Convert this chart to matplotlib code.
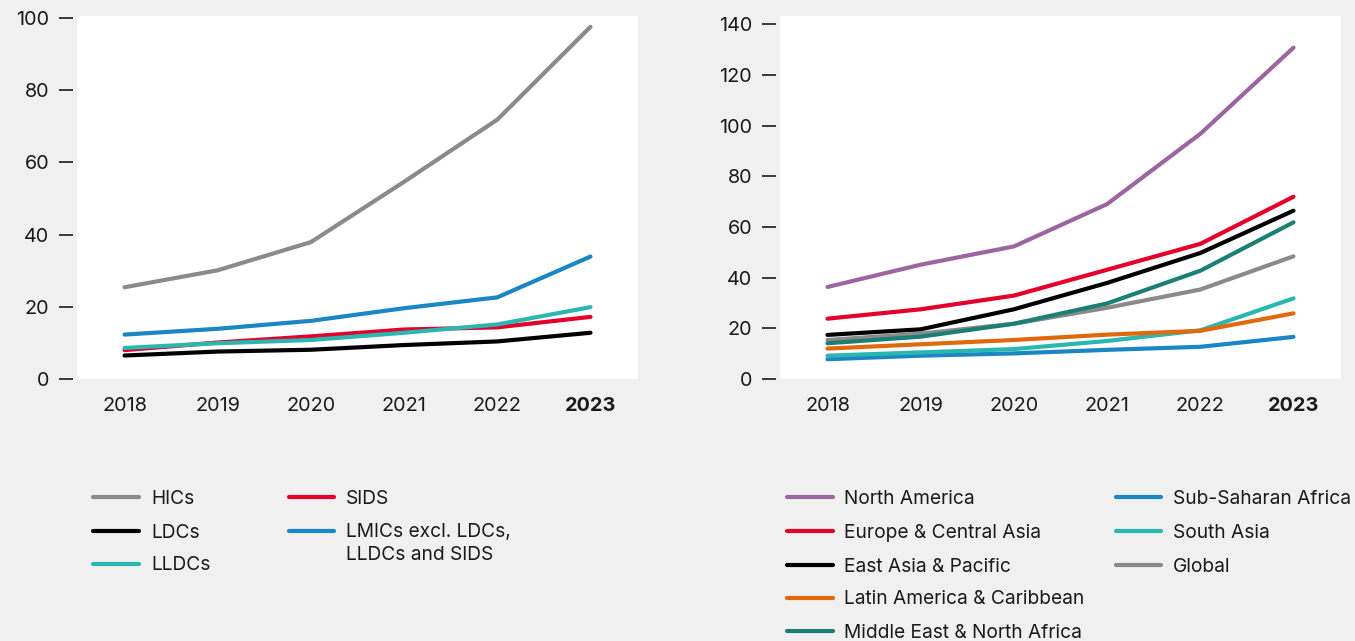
import matplotlib
matplotlib.use("Agg")
import matplotlib.pyplot as plt
from matplotlib.lines import Line2D

plt.rcParams['font.family'] = ['Inter', 'DejaVu Sans']

years = [2018, 2019, 2020, 2021, 2022, 2023]
year_labels = ['2018', '2019', '2020', '2021', '2022', '2023']

# Left panel: country groups
hics = [25.4, 30.1, 37.9, 54.6, 71.8, 97.5]
ldcs = [6.5, 7.6, 8.1, 9.4, 10.4, 12.8]
lldcs = [8.6, 9.9, 10.8, 12.8, 15.1, 19.9]
sids = [8.0, 10.1, 11.8, 13.7, 14.3, 17.2]
lmics = [12.3, 13.9, 16.1, 19.6, 22.6, 33.9]

# Right panel: regions
north_america = [36.3, 45.1, 52.3, 69.0, 96.7, 130.7]
europe_central_asia = [23.8, 27.5, 32.9, 43.1, 53.3, 71.9]
east_asia_pacific = [17.4, 19.6, 27.5, 37.9, 49.7, 66.4]
latin_america = [12.0, 13.7, 15.4, 17.5, 19.0, 25.9]
middle_east = [14.1, 16.7, 21.8, 29.8, 42.7, 61.8]
sub_saharan = [7.8, 9.2, 10.1, 11.5, 12.7, 16.6]
south_asia = [9.2, 10.5, 11.8, 15.0, 19.2, 31.8]
global_ = [15.4, 17.9, 21.8, 28.1, 35.3, 48.4]

GREY = '#8a8a8a'
BLACK = '#000000'
TEAL = '#2bb7b1'
RED = '#e4002b'
BLUE = '#1a86c2'
PURPLE = '#9b66a0'
ORANGE = '#e0680d'
DTEAL = '#1b7f76'
TXT = '#1a1a1a'
BG = '#f0f0f0'

W, H = 1355, 641
fig = plt.figure(figsize=(W / 100, H / 100), dpi=100, facecolor=BG)


def px_axes(x0, x1, ytop, ybot):
    return fig.add_axes([x0 / W, 1 - ybot / H, (x1 - x0) / W, (ybot - ytop) / H])


def style(ax, ymax, yticks):
    ax.set_facecolor('white')
    for s in ax.spines.values():
        s.set_visible(False)
    ax.spines['left'].set_position(('outward', 3))
    ax.set_xlim(2017.49, 2023.51)
    ax.set_ylim(0, ymax)
    ax.set_yticks(yticks)
    ax.set_xticks(years)
    ax.set_xticklabels(year_labels)
    ax.get_xticklabels()[-1].set_fontweight('bold')
    ax.tick_params(axis='x', length=0, pad=13, labelsize=14.3, labelcolor=TXT)
    ax.tick_params(axis='y', length=10, width=1.2, color=TXT, pad=7,
                   labelsize=14.3, labelcolor=TXT)


lw = 3.0

# Left chart
axL = px_axes(77, 638, 16, 379)
left_series = [
    ('HICs', hics, GREY),
    ('LDCs', ldcs, BLACK),
    ('SIDS', sids, RED),
    ('LLDCs', lldcs, TEAL),
    ('LMICs', lmics, BLUE),
]
for name, vals, c in left_series:
    axL.plot(years, vals, color=c, lw=lw, solid_capstyle='round', solid_joinstyle='round')
style(axL, 100.5, [0, 20, 40, 60, 80, 100])

# Right chart
axR = px_axes(780, 1341, 16, 379)
right_series = [
    ('Sub-Saharan Africa', sub_saharan, BLUE),
    ('South Asia', south_asia, TEAL),
    ('Global', global_, GREY),
    ('Latin America & Caribbean', latin_america, ORANGE),
    ('Middle East & North Africa', middle_east, DTEAL),
    ('East Asia & Pacific', east_asia_pacific, BLACK),
    ('Europe & Central Asia', europe_central_asia, RED),
    ('North America', north_america, PURPLE),
]
for name, vals, c in right_series:
    axR.plot(years, vals, color=c, lw=lw, solid_capstyle='round', solid_joinstyle='round')
style(axR, 143.2, [0, 20, 40, 60, 80, 100, 120, 140])


# Legends (manual, in pixel coordinates)
def legend_entry(x_line0, x_line1, x_text, y, label, color):
    fig.add_artist(Line2D([x_line0 / W, x_line1 / W], [1 - y / H, 1 - y / H],
                          transform=fig.transFigure, color=color, lw=lw,
                          solid_capstyle='round'))
    for i, line in enumerate(label.split('\n')):
        fig.text(x_text / W, 1 - (y + 6.5 + 22 * i) / H, line, fontsize=13.8,
                 color=TXT, va='baseline', ha='left')


rows = [497, 531, 564]
legend_entry(93, 139, 151, rows[0], 'HICs', GREY)
legend_entry(93, 139, 151, rows[1], 'LDCs', BLACK)
legend_entry(93, 139, 151, rows[2], 'LLDCs', TEAL)
legend_entry(289, 334, 346, rows[0], 'SIDS', RED)
legend_entry(289, 334, 346, rows[1], 'LMICs excl. LDCs,\nLLDCs and SIDS', BLUE)

rrows = [497, 531, 565, 598, 631]
legend_entry(787, 833, 844, rrows[0], 'North America', PURPLE)
legend_entry(787, 833, 844, rrows[1], 'Europe & Central Asia', RED)
legend_entry(787, 833, 844, rrows[2], 'East Asia & Pacific', BLACK)
legend_entry(787, 833, 844, rrows[3], 'Latin America & Caribbean', ORANGE)
legend_entry(787, 833, 844, rrows[4], 'Middle East & North Africa', DTEAL)
legend_entry(1116, 1161, 1173, rrows[0], 'Sub-Saharan Africa', BLUE)
legend_entry(1116, 1161, 1173, rrows[1], 'South Asia', TEAL)
legend_entry(1116, 1161, 1173, rrows[2], 'Global', GREY)

fig.savefig('out.png', dpi=100, facecolor=BG)
